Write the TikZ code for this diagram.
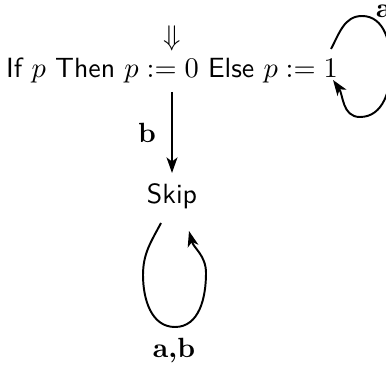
\documentclass[tikz,border=0pt]{standalone}
\usetikzlibrary{arrows.meta}
\begin{document}
\begin{tikzpicture}[x=0.385pt,y=-0.385pt,
  edge/.style={line width=0.75pt,-{Stealth[length=6pt,width=4.2pt,inset=1.6pt]}},
  txt/.style={inner sep=0pt,font=\fontsize{10.7}{13}\selectfont\sffamily},
  lbl/.style={inner sep=0pt,font=\fontsize{10.7}{13}\selectfont\bfseries}]
\useasboundingbox (0,0) rectangle (386,366);
\node[txt,anchor=base] (main) at (172,78) {If $p$ Then $p := 0$ Else $p := 1$};
\node[lbl] (dbl) at (172,38) {$\Downarrow$};
\node[txt,anchor=base] (skip) at (172,204) {Skip};
\node[lbl] (lb) at (147,133) {b};
\node[lbl,anchor=base] (lab) at (174,357) {a,b};
\node[lbl,anchor=base] (la) at (384,18) {a};
\coordinate (m1) at (172,92);
\coordinate (s1) at (172,173);
\draw[edge] (m1) -- (s1);
\coordinate (ls) at (161,223);
\coordinate (le) at (189,231);
\draw[edge] (ls) to[out=-118,in=90] (143,275) to[out=-90,in=180] (175,327)
  to[out=0,in=-90] (206,273) to[out=90,in=-75] (le);
\coordinate (rs) at (331,49);
\coordinate (re) at (333,80);
\draw[edge] (rs) to[out=62,in=180] (362,16) to[out=0,in=90] (391,66)
  to[out=-90,in=0] (360,117) to[out=180,in=-55] (re);
\end{tikzpicture}
\end{document}
